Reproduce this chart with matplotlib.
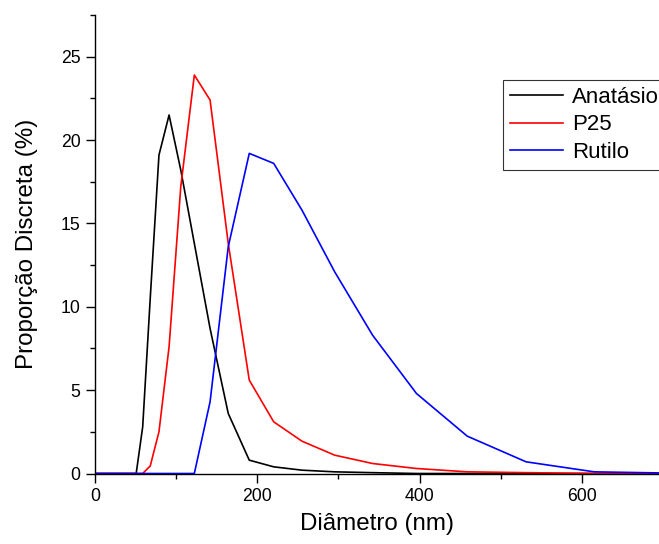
import numpy as np
import matplotlib
matplotlib.use("Agg")
import matplotlib.pyplot as plt
from matplotlib.ticker import MultipleLocator

plt.rcParams['font.family'] = ['Liberation Sans', 'DejaVu Sans']

# Zetasizer size bins (nm)
diametro = [0, 43.82, 50.75, 58.77, 68.06, 78.82, 91.28, 105.7, 122.4, 141.8,
            164.2, 190.1, 220.2, 255.0, 295.3, 342.0, 396.1, 458.7, 531.2,
            615.1, 712.4]

anatasio = [0, 0, 0, 2.8, 10.5, 19.1, 21.5, 18.2, 13.8, 8.7,
            3.6, 0.8, 0.4, 0.2, 0.1, 0.05, 0, 0, 0, 0, 0]
p25 = [0, 0, 0, 0, 0.45, 2.5, 7.6, 17.2, 23.9, 22.4,
       13.8, 5.6, 3.1, 1.94, 1.1, 0.6, 0.3, 0.1, 0.05, 0, 0]
rutilo = [0, 0, 0, 0, 0, 0, 0, 0, 0, 4.3,
          13.6, 19.2, 18.6, 15.8, 12.1, 8.3, 4.8, 2.24, 0.7, 0.1, 0.02]

series = [('Anatásio', anatasio, 'black'),
          ('P25', p25, '#ff0000'),
          ('Rutilo', rutilo, '#0000ff')]

fig = plt.figure(figsize=(6.59, 5.44), dpi=100)
ax = fig.add_axes([95 / 659, 70.5 / 544, 1 - 95 / 659, 458.5 / 544])

for nome, vals, cor in series:
    ax.plot(diametro, vals, color=cor, lw=1.2, label=nome)

ax.set_xlim(0, 695)
ax.set_ylim(0, 27.5)
ax.xaxis.set_major_locator(MultipleLocator(200))
ax.xaxis.set_minor_locator(MultipleLocator(100))
ax.yaxis.set_major_locator(MultipleLocator(5))
ax.yaxis.set_minor_locator(MultipleLocator(2.5))

for s in ['top', 'right']:
    ax.spines[s].set_visible(False)
for s in ['left', 'bottom']:
    ax.spines[s].set_linewidth(1.0)

ax.tick_params(which='major', direction='out', length=6.5, width=1.0,
               labelsize=12.7, pad=4)
ax.tick_params(which='minor', direction='out', length=3.5, width=1.0)

ax.set_xlabel('Diâmetro (nm)', fontsize=17.4, labelpad=6)
ax.set_ylabel('Proporção Discreta (%)', fontsize=17.4, labelpad=16)

leg = ax.legend(loc='upper left', bbox_to_anchor=(503 / 659, 1 - 80 / 544),
                bbox_transform=fig.transFigure, fontsize=16, frameon=True,
                fancybox=False, borderpad=0.3, borderaxespad=0,
                handlelength=2.4, handletextpad=0.4, labelspacing=0.3)
leg.get_frame().set_edgecolor('black')
leg.get_frame().set_linewidth(0.8)

fig.savefig('out.png', dpi=100)
